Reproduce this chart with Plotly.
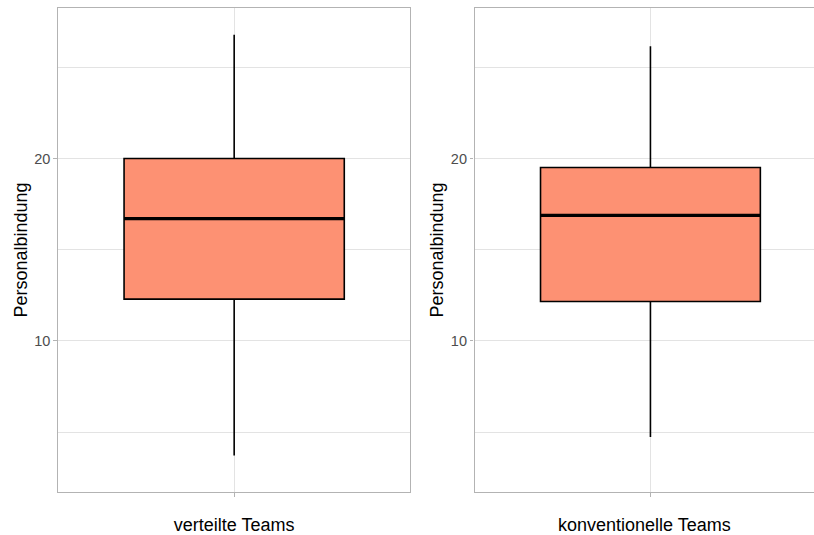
import plotly.graph_objects as go

# ---- data ----
groups = ["verteilte Teams", "konventionelle Teams"]
lower_whisker = [3.72, 4.74]
q1_values = [12.29, 12.16]
median_values = [16.70, 16.88]
q3_values = [20.00, 19.51]
upper_whisker = [26.78, 26.16]
y_tickvals = [10, 20]
y_ticktext = ["10", "20"]

BOX_WIDTH = 0.75
FILL = "#FD9173"
FONT = "Liberation Sans, Arial, Helvetica, sans-serif"
GRID = "#e3e3e3"
BORDER = "#b3b3b3"

W, H = 814, 535
ML, MR, MT, MB = 58.3, 0, 8.3, 535 - 491.7
pw = W - ML - MR

x_domains = [[0, (410.5 - ML) / pw], [(474.7 - ML) / pw, 1.0]]
x_ranges = [[-0.6, 0.6], [-0.6, 0.558]]

fig = go.Figure()

for i, g in enumerate(groups):
    xa = "x" if i == 0 else "x2"
    ya = "y" if i == 0 else "y2"
    fig.add_trace(go.Box(
        x=[0], q1=[q1_values[i]], median=[median_values[i]], q3=[q3_values[i]],
        lowerfence=[lower_whisker[i]], upperfence=[upper_whisker[i]],
        width=BOX_WIDTH, whiskerwidth=0, fillcolor=FILL,
        line=dict(color="black", width=1.6), boxpoints=False,
        xaxis=xa, yaxis=ya, showlegend=False, name=g, hoverinfo="skip",
    ))
    # thicker median line, as in ggplot
    fig.add_trace(go.Scatter(
        x=[-BOX_WIDTH / 2, BOX_WIDTH / 2], y=[median_values[i]] * 2,
        mode="lines", line=dict(color="black", width=3.2),
        xaxis=xa, yaxis=ya, showlegend=False, hoverinfo="skip",
    ))

    axis_x = dict(
        domain=x_domains[i], range=x_ranges[i], type="linear",
        tickvals=[0], ticktext=[""], ticks="outside", ticklen=4, tickcolor=BORDER, tickwidth=1,
        showgrid=True, gridcolor=GRID, gridwidth=1, zeroline=False,
        showline=True, linecolor=BORDER, linewidth=1.3, mirror=True,
        title=dict(text=g, font=dict(family=FONT, size=18, color="black"), standoff=20),
        fixedrange=True, anchor=ya,
    )
    axis_y = dict(
        domain=[0, 1], range=[1.72, 28.25], type="linear",
        tickvals=y_tickvals, ticktext=y_ticktext,
        ticks="outside", ticklen=3.5, tickcolor=BORDER, tickwidth=1,
        tickfont=dict(family=FONT, size=14.5, color="#4d4d4d"),
        showgrid=True, gridcolor=GRID, gridwidth=1, zeroline=False,
        minor=dict(dtick=5, tick0=0, showgrid=True, gridcolor=GRID, gridwidth=0.7, ticks=""),
        showline=True, linecolor=BORDER, linewidth=1.3, mirror=False,
        title=dict(text="Personalbindung", font=dict(family=FONT, size=18, color="black"), standoff=2),
        fixedrange=True, anchor=xa,
    )
    if i == 0:
        axis_y["mirror"] = True
        fig.update_layout(xaxis=axis_x, yaxis=axis_y)
    else:
        fig.update_layout(xaxis2=axis_x, yaxis2=axis_y)

fig.update_layout(
    width=W, height=H,
    margin=dict(l=ML, r=MR, t=MT, b=MB),
    plot_bgcolor="white", paper_bgcolor="white",
    font=dict(family=FONT),
    showlegend=False,
)

fig.write_html(
    "out.html",
    config={"displayModeBar": False},
    post_script="document.body.style.margin='0';document.body.style.overflow='hidden';",
)
